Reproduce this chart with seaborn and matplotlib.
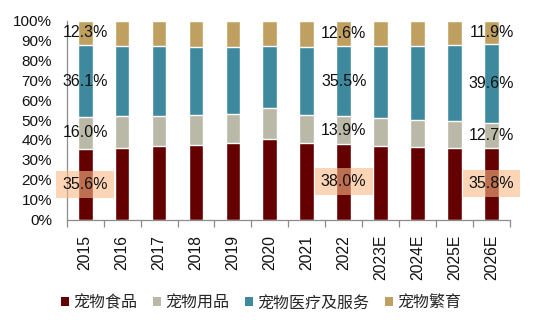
import numpy as np
import pandas as pd
import matplotlib
matplotlib.use("Agg")
import matplotlib.pyplot as plt
import seaborn as sns
from matplotlib.patches import Patch
from matplotlib.ticker import FixedLocator, PercentFormatter

years = ["2015", "2016", "2017", "2018", "2019", "2020", "2021", "2022",
         "2023E", "2024E", "2025E", "2026E"]
food = [35.6, 36.1, 37.0, 37.6, 38.3, 40.6, 38.3, 38.0, 37.1, 36.6, 36.1, 35.8]
supplies = [16.0, 15.8, 14.9, 15.0, 14.8, 15.5, 14.4, 13.9, 14.0, 13.6, 13.3, 12.7]
medical = [36.1, 35.4, 35.4, 34.2, 33.8, 31.3, 34.2, 35.5, 36.3, 37.2, 38.4, 39.6]
breeding = [12.3, 12.7, 12.7, 13.2, 13.1, 12.6, 13.1, 12.6, 12.6, 12.6, 12.2, 11.9]

series_names = ["宠物食品", "宠物用品", "宠物医疗及服务", "宠物繁育"]
series_colors = ["#640000", "#BAB8A6", "#3E899E", "#C0A060"]
labelled_years = ["2015", "2022", "2026E"]

sns.set_theme(style="white")
plt.rcParams["font.family"] = ["Liberation Sans", "Noto Sans CJK SC", "DejaVu Sans"]

df = pd.DataFrame({"year": years, "food": food, "supplies": supplies,
                   "medical": medical, "breeding": breeding})
df["c1"] = df["food"]
df["c2"] = df["c1"] + df["supplies"]
df["c3"] = df["c2"] + df["medical"]
df["c4"] = df["c3"] + df["breeding"]

fig = plt.figure(figsize=(5.42, 3.23), dpi=100)
ax = fig.add_axes([0.123, 0.3204, 0.818, 0.6155])

# stacked bars: draw cumulative totals from the top segment down
for col, color in zip(["c4", "c3", "c2", "c1"], series_colors[::-1]):
    sns.barplot(data=df, x="year", y=col, color=color, width=0.4,
                saturation=1, ax=ax, zorder=2, order=years)

ax.set_xlim(-0.5, len(years) - 0.5)
ax.set_ylim(0, 100)
ax.set_xlabel("")
ax.set_ylabel("")
ax.yaxis.set_major_locator(FixedLocator(np.arange(0, 101, 10)))
ax.yaxis.set_major_formatter(PercentFormatter(decimals=0))
ax.tick_params(axis="y", length=0, labelsize=11, pad=10.5, labelcolor="#111111")
ax.tick_params(axis="x", which="major", length=0, labelsize=11.3, pad=11,
               labelrotation=90, labelcolor="#111111")
ax.xaxis.set_minor_locator(FixedLocator(np.arange(-0.5, len(years), 1.0)))
ax.tick_params(axis="x", which="minor", length=5, width=0.9, color="#8c8c8c",
               direction="out", bottom=True)
for side in ["top", "right"]:
    ax.spines[side].set_visible(False)
for side in ["left", "bottom"]:
    ax.spines[side].set_color("#8c8c8c")
    ax.spines[side].set_linewidth(0.9)
ax.grid(False)

# value labels on the highlighted years
for yr in labelled_years:
    i = years.index(yr)
    segs = [food[i], supplies[i], medical[i], breeding[i]]
    base = 0.0
    for k, v in enumerate(segs):
        mid = base + v / 2
        kw = {}
        if k == 0:
            kw["bbox"] = dict(boxstyle="square,pad=0.38", facecolor="#FBB988",
                              alpha=0.6, edgecolor="none")
        ax.text(i, mid, f"{v:.1f}%", ha="center", va="center", fontsize=11.5,
                color="#111111", zorder=5, **kw)
        base += v

handles = [Patch(facecolor=c, edgecolor="none") for c in series_colors]
fig.legend(handles, series_names, loc="center", bbox_to_anchor=(0.482, 0.062),
           ncol=4, frameon=False, handlelength=0.5, handleheight=0.5,
           handletextpad=0.25, columnspacing=1.0,
           prop={"family": ["Noto Sans CJK SC", "DejaVu Sans"], "size": 11.5})

fig.savefig("out.png", dpi=100)
